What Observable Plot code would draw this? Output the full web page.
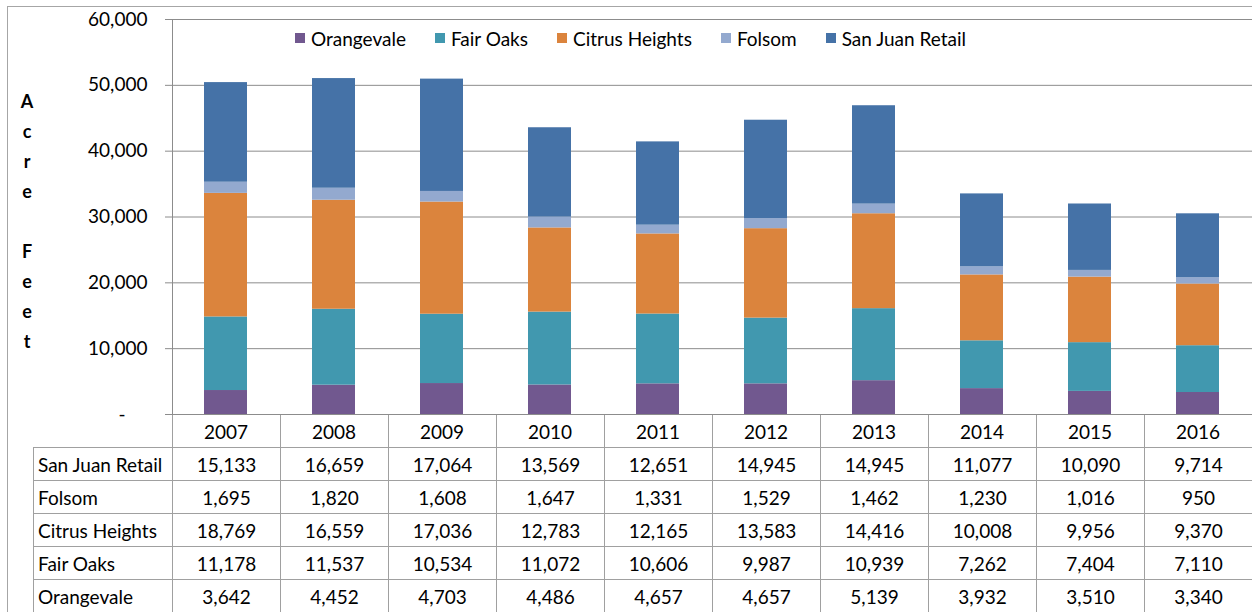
<!DOCTYPE html>
<html><head><meta charset="utf-8">
<script src="https://cdn.jsdelivr.net/npm/d3@7"></script>
<script src="https://cdn.jsdelivr.net/npm/@observablehq/plot@0.6"></script>
<style>
html,body{margin:0;padding:0;background:#fff;}
body{font-family:Lato,"Open Sans",sans-serif;color:#000;}
#wrap{position:relative;width:1252px;height:612px;overflow:hidden;background:#fff;}
#frame{position:absolute;left:7px;top:6px;width:1400px;height:800px;border-left:1px solid #a6a6a6;border-top:1px solid #a6a6a6;}
#chart{position:absolute;left:0;top:0;z-index:2;}
#legend{position:absolute;left:295px;top:27px;height:22px;display:flex;align-items:center;font-size:19px;z-index:3;white-space:nowrap;}
#legend .item{display:flex;align-items:center;margin-right:29px;}
#legend .sw{width:10px;height:10px;margin-right:6px;}
#ylab{position:absolute;left:17px;top:86px;width:20px;text-align:center;font-weight:bold;font-size:18px;line-height:30px;z-index:3;}
#tbl{position:absolute;left:33px;top:414px;border-collapse:collapse;table-layout:fixed;width:1220px;font-size:19px;z-index:1;}
#tbl td{border:1px solid #a0a0a0;height:32px;padding:0;text-align:center;box-sizing:border-box;}
#tbl td.lab{text-align:left;padding-left:4px;}
#tbl td.empty{border-top:none;border-left:none;}
</style></head>
<body>
<div id="wrap">
  <div id="frame"></div>
  <div id="ylab"></div>
  <div id="legend"></div>
</div>
<script>
const years = ["2007","2008","2009","2010","2011","2012","2013","2014","2015","2016"];
const seriesNames = ["Orangevale","Fair Oaks","Citrus Heights","Folsom","San Juan Retail"];
const seriesColors = ["#71588F","#4198AF","#DB843D","#93A9CF","#4572A7"];
const orangevale    = [3642,4452,4703,4486,4657,4657,5139,3932,3510,3340];
const fairOaks      = [11178,11537,10534,11072,10606,9987,10939,7262,7404,7110];
const citrusHeights = [18769,16559,17036,12783,12165,13583,14416,10008,9956,9370];
const folsom        = [1695,1820,1608,1647,1331,1529,1462,1230,1016,950];
const sanJuanRetail = [15133,16659,17064,13569,12651,14945,14945,11077,10090,9714];
const yTicks = [0,10000,20000,30000,40000,50000,60000];
const tableOrder = ["San Juan Retail","Folsom","Citrus Heights","Fair Oaks","Orangevale"];
const yTitle = "Acre Feet";

const seriesValues = {
  "Orangevale": orangevale,
  "Fair Oaks": fairOaks,
  "Citrus Heights": citrusHeights,
  "Folsom": folsom,
  "San Juan Retail": sanJuanRetail
};
const data = [];
seriesNames.forEach(s => years.forEach((yr, i) => data.push({year: yr, series: s, value: seriesValues[s][i]})));

const fmt = d3.format(",");
const wrap = document.getElementById("wrap");

// data table (drawn below the svg)
const tbl = document.createElement("table");
tbl.id = "tbl";
const cg = document.createElement("colgroup");
[139, ...years.map(() => 108)].forEach(w => { const c = document.createElement("col"); c.style.width = w + "px"; cg.appendChild(c); });
tbl.appendChild(cg);
const hr = document.createElement("tr");
hr.style.height = "33px";
const e = document.createElement("td"); e.className = "empty"; hr.appendChild(e);
years.forEach(() => { const td = document.createElement("td"); hr.appendChild(td); });
tbl.appendChild(hr);
tableOrder.forEach(s => {
  const tr = document.createElement("tr");
  tr.style.height = "33px";
  const l = document.createElement("td"); l.className = "lab"; l.textContent = s; tr.appendChild(l);
  seriesValues[s].forEach(v => { const td = document.createElement("td"); td.textContent = fmt(v); tr.appendChild(td); });
  tbl.appendChild(tr);
});
wrap.appendChild(tbl);

const chart = Plot.plot({
  width: 1252, height: 448,
  marginLeft: 172, marginRight: 0, marginTop: 19, marginBottom: 34,
  style: {fontFamily: "Lato, 'Open Sans', sans-serif", fontSize: "19px", color: "#000", background: "transparent", overflow: "visible"},
  x: {domain: years, paddingInner: 0.6, paddingOuter: 0.3, label: null},
  y: {domain: [0, 60000], label: null},
  color: {domain: seriesNames, range: seriesColors},
  marks: [
    Plot.ruleY(yTicks, {stroke: "#8c8c8c", strokeWidth: 1}),
    Plot.axisY({ticks: yTicks, tickSize: 7, tickPadding: 18, stroke: "#8c8c8c", fill: "#000",
      tickFormat: d => d === 0 ? "-\u2007\u2007" : fmt(d), label: null}),
    Plot.frame({anchor: "left", stroke: "#8c8c8c"}),
    Plot.barY(data, {x: "year", y: "value", fill: "series", order: seriesNames}),
    Plot.axisX({tickSize: 0, tickPadding: 11, fill: "#000", label: null})
  ]
});
chart.id = "chart";
wrap.appendChild(chart);

// legend
const lg = document.getElementById("legend");
seriesNames.forEach((s, i) => {
  const it = document.createElement("div"); it.className = "item";
  const sw = document.createElement("div"); sw.className = "sw"; sw.style.background = seriesColors[i];
  const tx = document.createElement("span"); tx.textContent = s;
  it.appendChild(sw); it.appendChild(tx); lg.appendChild(it);
});

// y title as stacked letters
document.getElementById("ylab").innerHTML = yTitle.split("").map(c => c === " " ? "&nbsp;" : c).join("<br>");
</script>
</body></html>
